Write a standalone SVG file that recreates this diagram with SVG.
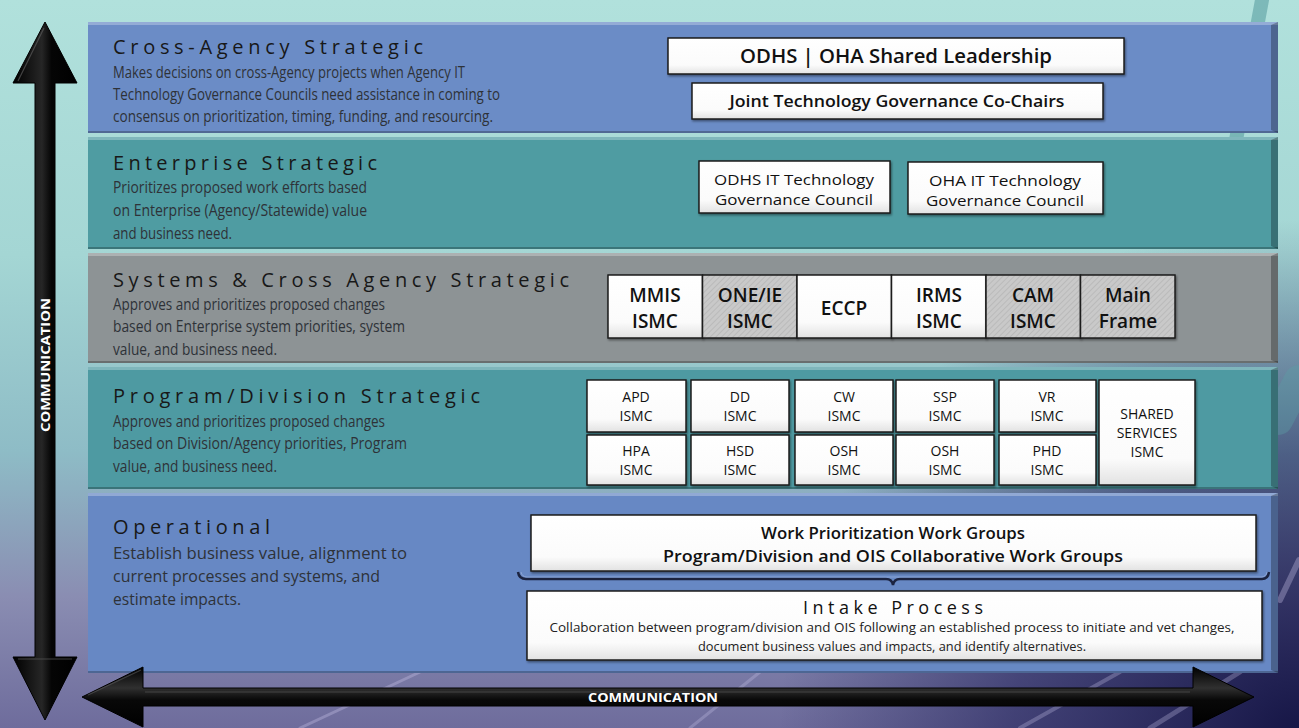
<svg xmlns="http://www.w3.org/2000/svg" width="1299" height="728" viewBox="0 0 1299 728">
  <defs>
    <linearGradient id="bgV" x1="0" y1="0" x2="0" y2="1">
      <stop offset="0" stop-color="#b1e1dc"/>
      <stop offset="0.35" stop-color="#a4d6d4"/>
      <stop offset="0.62" stop-color="#8ebcc6"/>
      <stop offset="0.82" stop-color="#8a8db2"/>
      <stop offset="1" stop-color="#6e6c9c"/>
    </linearGradient>
    <radialGradient id="bgDark" cx="1299" cy="740" r="520" gradientUnits="userSpaceOnUse">
      <stop offset="0" stop-color="#101040" stop-opacity="0.95"/>
      <stop offset="0.55" stop-color="#22225a" stop-opacity="0.6"/>
      <stop offset="1" stop-color="#2a2a60" stop-opacity="0"/>
    </radialGradient>
    <linearGradient id="boxFill" x1="0" y1="0" x2="0" y2="1">
      <stop offset="0" stop-color="#ffffff"/>
      <stop offset="0.75" stop-color="#fbfbfb"/>
      <stop offset="1" stop-color="#e2e2e2"/>
    </linearGradient>
    <pattern id="hatch" width="4" height="4" patternUnits="userSpaceOnUse" patternTransform="rotate(45)">
      <rect width="4" height="4" fill="#c9c9c9"/>
      <line x1="0" y1="0" x2="0" y2="4" stroke="#b4b4b4" stroke-width="1.4"/>
    </pattern>
    <linearGradient id="shaftV" x1="0" y1="0" x2="1" y2="0">
      <stop offset="0" stop-color="#000"/>
      <stop offset="0.45" stop-color="#262626"/>
      <stop offset="0.6" stop-color="#050505"/>
      <stop offset="1" stop-color="#000"/>
    </linearGradient>
    <linearGradient id="shaftH" x1="0" y1="0" x2="0" y2="1">
      <stop offset="0" stop-color="#000"/>
      <stop offset="0.35" stop-color="#303030"/>
      <stop offset="0.55" stop-color="#080808"/>
      <stop offset="1" stop-color="#000"/>
    </linearGradient>
    <filter id="shadow" x="-5%" y="-10%" width="110%" height="130%">
      <feDropShadow dx="1" dy="1.5" stdDeviation="1" flood-color="#000" flood-opacity="0.45"/>
    </filter>
    <style>
      .title { font-family: "Open Sans", "Noto Sans", sans-serif; font-size: 20px; font-weight: 500; fill: #181818; }
      .desc { font-family: "Open Sans", "Noto Sans", sans-serif; font-size: 16px; fill: #2e3238; }
      .box { fill: url(#boxFill); stroke: #1c1c1c; stroke-width: 1.5; filter: url(#shadow); }
      .box.hatched { fill: url(#hatch); }
      .lbl { font-family: "Open Sans", "Noto Sans", sans-serif; fill: #111; text-anchor: middle; }
      .big { font-size: 19px; font-weight: 600; }
      .mid { font-size: 16px; font-weight: 600; }
      .reg { font-size: 15px; }
      .sm { font-size: 14px; }
      .tiny { font-size: 12.5px; fill: #222; }
      .comm { font-family: "Open Sans", "Noto Sans", sans-serif; font-size: 13px; font-weight: 700; fill: #fff; }
      .hl { fill: #ffffff; opacity: 0.28; }
      .edgeR { fill: #000; opacity: 0.28; }
      .edgeB { fill: #000; opacity: 0.25; }
    </style>
  </defs>

  <!-- backdrop -->
  <rect width="1299" height="728" fill="url(#bgV)"/>
  <rect width="1299" height="728" fill="url(#bgDark)"/>
  <g id="streaks" fill="none" stroke-linecap="round">
    <path d="M1262 0 L1236 140" stroke="#3e8a8e" stroke-width="14" opacity="0.45"/>
    <path d="M1299 380 L1278 420" stroke="#5c9ea6" stroke-width="30" opacity="0.4"/>
    <path d="M300 728 L420 672" stroke="#c8c4e8" stroke-width="3" opacity="0.35"/>
    <path d="M690 728 L760 672" stroke="#c8c4e8" stroke-width="3" opacity="0.3"/>
    <path d="M1020 728 L1120 672" stroke="#c8c4e8" stroke-width="4" opacity="0.3"/>
    <path d="M1150 728 L1240 672" stroke="#c8c4e8" stroke-width="5" opacity="0.3"/>
    <path d="M1280 600 L1299 560" stroke="#c8c4e8" stroke-width="6" opacity="0.35"/>
  </g>

  <!-- level bands -->
  <g id="band-cross-agency">
    <rect x="88" y="22" width="1190" height="111" fill="#6b8cc6"/>
    <rect class="hl" x="88" y="22" width="1190" height="3"/>
    <polygon class="edgeR" points="1271,25 1278,22 1278,133 1271,130"/>
    <rect class="edgeB" x="88" y="131" width="1190" height="2"/>
    <text class="title" x="113" y="54" textLength="310" lengthAdjust="spacing">Cross-Agency Strategic</text>
    <text class="desc" x="113" y="78" textLength="352" lengthAdjust="spacingAndGlyphs">Makes decisions on cross-Agency projects when Agency IT</text>
    <text class="desc" x="113" y="100" textLength="387" lengthAdjust="spacingAndGlyphs">Technology Governance Councils need assistance in coming to</text>
    <text class="desc" x="113" y="122" textLength="380" lengthAdjust="spacingAndGlyphs">consensus on prioritization, timing, funding, and resourcing.</text>
  </g>

  <g id="band-enterprise">
    <rect x="88" y="137" width="1190" height="112" fill="#4f9ca2"/>
    <rect class="hl" x="88" y="137" width="1190" height="3"/>
    <polygon class="edgeR" points="1271,140 1278,137 1278,249 1271,246"/>
    <rect class="edgeB" x="88" y="247" width="1190" height="2"/>
    <text class="title" x="113" y="170" textLength="264" lengthAdjust="spacing">Enterprise Strategic</text>
    <text class="desc" x="113" y="193" textLength="254" lengthAdjust="spacingAndGlyphs">Prioritizes proposed work efforts based</text>
    <text class="desc" x="113" y="216" textLength="254" lengthAdjust="spacingAndGlyphs">on Enterprise (Agency/Statewide) value</text>
    <text class="desc" x="113" y="239" textLength="119" lengthAdjust="spacingAndGlyphs">and business need.</text>
  </g>

  <g id="band-systems">
    <rect x="88" y="253" width="1190" height="110" fill="#8d9395"/>
    <rect class="hl" x="88" y="253" width="1190" height="3"/>
    <polygon class="edgeR" points="1271,256 1278,253 1278,363 1271,360"/>
    <rect class="edgeB" x="88" y="361" width="1190" height="2"/>
    <text class="title" x="113" y="287" textLength="456" lengthAdjust="spacing">Systems &amp; Cross Agency Strategic</text>
    <text class="desc" x="113" y="310" textLength="272" lengthAdjust="spacingAndGlyphs">Approves and prioritizes proposed changes</text>
    <text class="desc" x="113" y="332" textLength="292" lengthAdjust="spacingAndGlyphs">based on Enterprise system priorities, system</text>
    <text class="desc" x="113" y="355" textLength="164" lengthAdjust="spacingAndGlyphs">value, and business need.</text>
  </g>

  <g id="band-program">
    <rect x="88" y="367" width="1190" height="122" fill="#4e9aa2"/>
    <rect class="hl" x="88" y="367" width="1190" height="3"/>
    <polygon class="edgeR" points="1271,370 1278,367 1278,489 1271,486"/>
    <rect class="edgeB" x="88" y="487" width="1190" height="2"/>
    <text class="title" x="113" y="403" textLength="367" lengthAdjust="spacing">Program/Division Strategic</text>
    <text class="desc" x="113" y="427" textLength="272" lengthAdjust="spacingAndGlyphs">Approves and prioritizes proposed changes</text>
    <text class="desc" x="113" y="449" textLength="294" lengthAdjust="spacingAndGlyphs">based on Division/Agency priorities, Program</text>
    <text class="desc" x="113" y="472" textLength="164" lengthAdjust="spacingAndGlyphs">value, and business need.</text>
  </g>

  <g id="band-operational">
    <rect x="88" y="493" width="1190" height="180" fill="#6788c4"/>
    <rect class="hl" x="88" y="493" width="1190" height="3"/>
    <polygon class="edgeR" points="1271,496 1278,493 1278,673 1271,670"/>
    <rect class="edgeB" x="88" y="671" width="1190" height="2"/>
    <text class="title" x="113" y="534" textLength="157" lengthAdjust="spacing">Operational</text>
    <text class="desc" x="113" y="559" textLength="294" lengthAdjust="spacingAndGlyphs">Establish business value, alignment to</text>
    <text class="desc" x="113" y="582" textLength="267" lengthAdjust="spacingAndGlyphs">current processes and systems, and</text>
    <text class="desc" x="113" y="605" textLength="128" lengthAdjust="spacingAndGlyphs">estimate impacts.</text>
  </g>

  <!-- cross-agency bodies -->
  <g id="shared-leadership">
    <rect class="box" x="668" y="38" width="456" height="36"/>
    <text class="lbl big" x="896" y="63" textLength="312" lengthAdjust="spacingAndGlyphs">ODHS | OHA Shared Leadership</text>
  </g>
  <g id="joint-co-chairs">
    <rect class="box" x="692" y="83" width="411" height="36"/>
    <text class="lbl mid" x="897" y="107" textLength="335" lengthAdjust="spacingAndGlyphs">Joint Technology Governance Co-Chairs</text>
  </g>

  <!-- enterprise councils -->
  <g id="odhs-council">
    <rect class="box" x="699" y="161" width="191" height="52"/>
    <text class="lbl reg" x="794" y="185" textLength="160" lengthAdjust="spacingAndGlyphs">ODHS IT Technology</text>
    <text class="lbl reg" x="794" y="205" textLength="158" lengthAdjust="spacingAndGlyphs">Governance Council</text>
  </g>
  <g id="oha-council">
    <rect class="box" x="908" y="162" width="195" height="52"/>
    <text class="lbl reg" x="1005" y="186" textLength="152" lengthAdjust="spacingAndGlyphs">OHA IT Technology</text>
    <text class="lbl reg" x="1005" y="206" textLength="158" lengthAdjust="spacingAndGlyphs">Governance Council</text>
  </g>

  <!-- system ISMCs -->
  <g id="mmis">
    <rect class="box" x="608" y="275" width="94.5" height="63"/>
    <text class="lbl big" x="655" y="302">MMIS</text>
    <text class="lbl big" x="655" y="328">ISMC</text>
  </g>
  <g id="one-ie">
    <rect class="box hatched" x="702.5" y="275" width="94.5" height="63"/>
    <text class="lbl big" x="750" y="302">ONE/IE</text>
    <text class="lbl big" x="750" y="328">ISMC</text>
  </g>
  <g id="eccp">
    <rect class="box" x="797" y="275" width="94.5" height="63"/>
    <text class="lbl big" x="844" y="315">ECCP</text>
  </g>
  <g id="irms">
    <rect class="box" x="891.5" y="275" width="94.5" height="63"/>
    <text class="lbl big" x="939" y="302">IRMS</text>
    <text class="lbl big" x="939" y="328">ISMC</text>
  </g>
  <g id="cam">
    <rect class="box hatched" x="986" y="275" width="94.5" height="63"/>
    <text class="lbl big" x="1033" y="302">CAM</text>
    <text class="lbl big" x="1033" y="328">ISMC</text>
  </g>
  <g id="mainframe">
    <rect class="box hatched" x="1080.5" y="275" width="94.5" height="63"/>
    <text class="lbl big" x="1128" y="302">Main</text>
    <text class="lbl big" x="1128" y="328">Frame</text>
  </g>

  <!-- program/division ISMCs -->
  <g id="apd">
    <rect class="box" x="587" y="380" width="99" height="52"/>
    <text class="lbl sm" x="636" y="402">APD</text>
    <text class="lbl sm" x="636" y="421">ISMC</text>
  </g>
  <g id="dd">
    <rect class="box" x="691" y="380" width="98" height="52"/>
    <text class="lbl sm" x="740" y="402">DD</text>
    <text class="lbl sm" x="740" y="421">ISMC</text>
  </g>
  <g id="cw">
    <rect class="box" x="795" y="380" width="98" height="52"/>
    <text class="lbl sm" x="844" y="402">CW</text>
    <text class="lbl sm" x="844" y="421">ISMC</text>
  </g>
  <g id="ssp">
    <rect class="box" x="896" y="380" width="98" height="52"/>
    <text class="lbl sm" x="945" y="402">SSP</text>
    <text class="lbl sm" x="945" y="421">ISMC</text>
  </g>
  <g id="vr">
    <rect class="box" x="999" y="380" width="97" height="52"/>
    <text class="lbl sm" x="1047" y="402">VR</text>
    <text class="lbl sm" x="1047" y="421">ISMC</text>
  </g>
  <g id="hpa">
    <rect class="box" x="587" y="435" width="99" height="50"/>
    <text class="lbl sm" x="636" y="456">HPA</text>
    <text class="lbl sm" x="636" y="475">ISMC</text>
  </g>
  <g id="hsd">
    <rect class="box" x="691" y="435" width="98" height="50"/>
    <text class="lbl sm" x="740" y="456">HSD</text>
    <text class="lbl sm" x="740" y="475">ISMC</text>
  </g>
  <g id="osh-1">
    <rect class="box" x="795" y="435" width="98" height="50"/>
    <text class="lbl sm" x="844" y="456">OSH</text>
    <text class="lbl sm" x="844" y="475">ISMC</text>
  </g>
  <g id="osh-2">
    <rect class="box" x="896" y="435" width="98" height="50"/>
    <text class="lbl sm" x="945" y="456">OSH</text>
    <text class="lbl sm" x="945" y="475">ISMC</text>
  </g>
  <g id="phd">
    <rect class="box" x="999" y="435" width="97" height="50"/>
    <text class="lbl sm" x="1047" y="456">PHD</text>
    <text class="lbl sm" x="1047" y="475">ISMC</text>
  </g>
  <g id="shared-services">
    <rect class="box" x="1099" y="380" width="96" height="105"/>
    <text class="lbl sm" x="1147" y="419">SHARED</text>
    <text class="lbl sm" x="1147" y="438">SERVICES</text>
    <text class="lbl sm" x="1147" y="457">ISMC</text>
  </g>

  <!-- operational groups -->
  <g id="work-groups">
    <rect class="box" x="531" y="515" width="725" height="56"/>
    <text class="lbl mid" x="893" y="539" textLength="264" lengthAdjust="spacingAndGlyphs">Work Prioritization Work Groups</text>
    <text class="lbl mid" x="893" y="562" textLength="460" lengthAdjust="spacingAndGlyphs">Program/Division and OIS Collaborative Work Groups</text>
  </g>
  <g id="intake">
    <rect class="box" x="527" y="591" width="735" height="69"/>
    <text class="lbl" x="893" y="614" font-size="18" textLength="180" lengthAdjust="spacing">Intake Process</text>
    <text class="lbl tiny" x="892" y="632" textLength="685" lengthAdjust="spacingAndGlyphs">Collaboration between program/division and OIS following an established process to initiate and vet changes,</text>
    <text class="lbl tiny" x="892" y="651" textLength="388" lengthAdjust="spacingAndGlyphs">document business values and impacts, and identify alternatives.</text>
  </g>

  <!-- connectors -->
  <g id="connectors">
    <path d="M518 572 Q519 579 526 579 L886 579 Q892 579 893 585 Q894 579 900 579 L1262 579 Q1268 579 1269 572" fill="none" stroke="#1b2340" stroke-width="2.5"/>
    <path d="M521 572 Q522 577 527 577 L1261 577 Q1266 577 1267 572" fill="none" stroke="#9fb4de" stroke-width="0.8" opacity="0.8"/>
    <g id="vertical-communication">
      <polygon points="45,22 77,83 55,83 55,657 77,657 45,720 13,657 35,657 35,83 13,83" fill="url(#shaftV)" stroke="#000" stroke-width="1"/>
      <path d="M18 81 L44 28 M18 659 L72 659" stroke="#5a5a5a" stroke-width="1.2" fill="none" opacity="0.7"/>
      <text class="comm" transform="translate(49.5 365) rotate(-90)" text-anchor="middle" textLength="134" lengthAdjust="spacingAndGlyphs">COMMUNICATION</text>
    </g>
    <g id="horizontal-communication">
      <polygon points="82,697 143,667 143,688 1193,688 1193,667 1254,697 1193,727 1193,706 143,706 143,727" fill="url(#shaftH)" stroke="#000" stroke-width="1"/>
      <path d="M88 695 L141 670 M145 692 L1190 692" stroke="#5a5a5a" stroke-width="1.2" fill="none" opacity="0.6"/>
      <text class="comm" x="653" y="702" text-anchor="middle" textLength="130" lengthAdjust="spacingAndGlyphs">COMMUNICATION</text>
    </g>
  </g>
</svg>
